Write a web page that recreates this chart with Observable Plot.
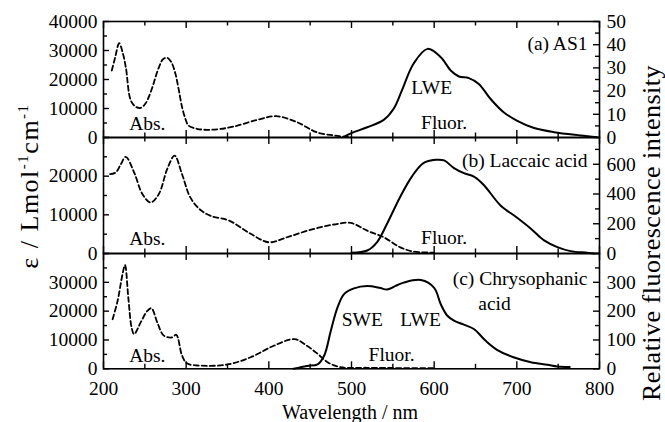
<!DOCTYPE html>
<html><head><meta charset="utf-8">
<script src="https://cdn.jsdelivr.net/npm/d3@7"></script>
<script src="https://cdn.jsdelivr.net/npm/@observablehq/plot@0.6"></script>
<style>
body{margin:0;background:#fff;}
#chart{position:relative;width:665px;height:422px;background:#fff;}
#chart svg{position:absolute;left:0;top:0;overflow:visible;}
#chart svg, #chart svg text{font-family:"Liberation Serif","DejaVu Serif","Times New Roman",serif !important;}
</style></head><body><div id="chart"></div>
<script>
// ---------- data ----------
const wlMajorTicks = [200,300,400,500,600,700,800];
const wlMinorTicks = [250,350,450,550,650,750];

// (a) AS1
const aAbsWl = [210,214,219,223,227,233,239,245,251,257,267,272,277,282,287,291,295,299,303,313,325,340,358,386,409,434,458,479,490,500];
const aAbs   = [23100,27500,32500,29500,24200,12800,10600,10200,11800,15600,24200,27000,27500,26000,22000,16500,10500,6500,4100,3000,2650,2900,3800,6100,7350,5300,1800,700,300,100];
const aFlWl  = [491,500,519,539,551,561,575,592,608,620,630,642,654,668,684,700,720,745,777,797];
const aFl    = [0.4,1.9,4.4,7.6,12.4,20.3,31.8,38.2,34.6,28.9,26.3,25.6,23.1,16.7,10.9,7.3,4.2,2.3,0.9,0.15];

// (b) Laccaic acid
const bAbsWl = [208,215,221,227,237,247,257,267,277,286,295,305,317,330,352,378,400,422,450,479,499,519,539,559,575,600];
const bAbs   = [20500,21000,23100,25000,21000,15400,13200,15400,21800,25300,20500,14500,11300,9700,8500,5100,2900,4200,6100,7500,7900,5900,4200,1600,500,250];
const bFlWl  = [500,519,531,543,559,573,587,602,612,624,636,648,660,680,700,717,733,749,765,785,793];
const bFl    = [5,20,77,200,382,517,608,630,626,574,540,517,461,325,242,167,88,43,16,5,0];

// (c) Chrysophanic acid
const cAbsWl = [211,217,223,226,230,234,237,245,253,258,265,273,283,288,295,301,317,350,378,406,431,446,459,471,487,519,600];
const cAbs   = [17200,23500,32800,36000,24700,14300,12000,16100,20100,21000,16100,11500,10900,11800,4600,1900,1100,1500,4000,8000,10300,8000,5200,2300,550,350,200];
const cFlWl  = [430,446,459,467,475,483,491,503,519,535,543,555,563,584,600,608,616,624,636,648,662,676,696,717,737,749,764];
const cFl    = [0,10,15,46,132,212,259,279,287,280,275,290,299,308,281,224,184,167,153,138,98,66,40,23,14,8,6];

// ---------- layout ----------
const W = 665, H = 422, ML = 103, MR = 66;
const FONT = '"Liberation Serif","DejaVu Serif","Times New Roman",serif';
const FS = 19.5;
const zip = (xs, ys) => xs.map((x, i) => ({x, y: ys[i]}));
const range = (a, b, s) => d3.range(a, b + s / 2, s);

const panels = [
  {top: 21, bottom: 137, abs: zip(aAbsWl, aAbs), fl: zip(aFlWl, aFl),
   yAbs: [0, 40000], absMajor: range(0, 40000, 10000), absMinor: range(5000, 35000, 10000), absLabels: range(0, 40000, 10000),
   yFl: [0, 50], flMajor: range(0, 50, 10), flMinor: range(5, 45, 10), flLabels: range(0, 50, 10),
   texts: [
     {t: "Abs.", x: 253, y: 4830, a: "middle"},
     {t: "LWE", x: 597, y: 17000, a: "middle"},
     {t: "Fluor.", x: 612, y: 5170, a: "middle"},
     {t: "(a) AS1", x: 785.5, y: 32400, a: "end"}
   ]},
  {top: 137, bottom: 253, abs: zip(bAbsWl, bAbs), fl: zip(bFlWl, bFl),
   yAbs: [0, 30000], absMajor: range(0, 30000, 10000), absMinor: range(5000, 25000, 10000), absLabels: [0, 10000, 20000],
   yFl: [0, 780], flMajor: [0, 200, 400, 600], flMinor: [100, 300, 500, 700], flLabels: [0, 200, 400, 600],
   texts: [
     {t: "Abs.", x: 253, y: 3870, a: "middle"},
     {t: "Fluor.", x: 612, y: 4200, a: "middle"},
     {t: "(b) Laccaic acid", x: 785.5, y: 23970, a: "end"}
   ]},
  {top: 253, bottom: 368.3, abs: zip(cAbsWl, cAbs), fl: zip(cFlWl, cFl),
   yAbs: [0, 40000], absMajor: range(0, 40000, 10000), absMinor: range(5000, 35000, 10000), absLabels: range(0, 30000, 10000),
   yFl: [0, 400], flMajor: range(0, 400, 100), flMinor: range(50, 350, 100), flLabels: range(0, 300, 100),
   texts: [
     {t: "Abs.", x: 253, y: 4590, a: "middle"},
     {t: "SWE", x: 513, y: 16900, a: "middle"},
     {t: "LWE", x: 583.5, y: 17000, a: "middle"},
     {t: "Fluor.", x: 548.5, y: 4930, a: "middle"},
     {t: "(c) Chrysophanic", x: 785.5, y: 31140, a: "end"},
     {t: "acid", x: 673, y: 22620, a: "middle"}
   ]}
];

const chart = document.getElementById("chart");
const panelW = W - ML - MR;
const style = {background: "transparent", fontFamily: FONT, fontSize: FS + "px", color: "black", overflow: "visible"};

panels.forEach((p, k) => {
  const ph = p.bottom - p.top;
  const last = k === panels.length - 1;
  const base = {width: W, height: H, marginLeft: ML, marginRight: MR, marginTop: p.top, marginBottom: H - p.bottom, style};
  const xScale = {domain: [200, 800], axis: null};

  const absPlot = Plot.plot({
    ...base,
    x: xScale,
    y: {domain: p.yAbs, axis: null},
    marks: [
      Plot.frame({stroke: "black", strokeWidth: 1.6}),
      // x ticks (inward) bottom and top
      Plot.ruleX(wlMajorTicks, {x: d => d, insetTop: ph - 7, stroke: "black", strokeWidth: 1.4}),
      Plot.ruleX(wlMinorTicks, {x: d => d, insetTop: ph - 4.5, stroke: "black", strokeWidth: 1.4}),
      Plot.ruleX(wlMajorTicks, {x: d => d, insetBottom: ph - 7, stroke: "black", strokeWidth: 1.4}),
      Plot.ruleX(wlMinorTicks, {x: d => d, insetBottom: ph - 4.5, stroke: "black", strokeWidth: 1.4}),
      // left y ticks (inward)
      Plot.ruleY(p.absMajor, {y: d => d, insetRight: panelW - 6, stroke: "black", strokeWidth: 1.4}),
      Plot.ruleY(p.absMinor, {y: d => d, insetRight: panelW - 4, stroke: "black", strokeWidth: 1.4}),
      Plot.axisY(p.absLabels, {anchor: "left", tickSize: 0, tickPadding: 6, fontSize: FS, tickFormat: d => String(d), label: null}),
      ...(last ? [Plot.axisX(wlMajorTicks, {anchor: "bottom", tickSize: 0, tickPadding: 12, fontSize: FS, tickFormat: d => String(d), label: null})] : []),
      Plot.line(p.abs, {x: "x", y: "y", curve: "catmull-rom", stroke: "black", strokeWidth: 1.8, strokeDasharray: "5,3"}),
      ...p.texts.map(t => Plot.text([t], {x: "x", y: "y", text: "t", textAnchor: t.a, lineAnchor: "middle", fontSize: FS, fill: "black"}))
    ]
  });
  chart.appendChild(absPlot);

  const flPlot = Plot.plot({
    ...base,
    x: xScale,
    y: {domain: p.yFl, axis: null},
    marks: [
      Plot.ruleY(p.flMajor, {y: d => d, insetLeft: panelW - 6, stroke: "black", strokeWidth: 1.4}),
      Plot.ruleY(p.flMinor, {y: d => d, insetLeft: panelW - 4, stroke: "black", strokeWidth: 1.4}),
      Plot.axisY(p.flLabels, {anchor: "right", tickSize: 0, tickPadding: 7, fontSize: FS, tickFormat: d => String(d), label: null}),
      Plot.line(p.fl, {x: "x", y: "y", curve: "catmull-rom", stroke: "black", strokeWidth: 2})
    ]
  });
  chart.appendChild(flPlot);
});

// axis titles
const titles = d3.select(chart).append("svg")
  .attr("width", W).attr("height", H)
  .style("font-family", FONT);
titles.append("text")
  .attr("x", 350).attr("y", 419)
  .attr("text-anchor", "middle").attr("font-size", 20)
  .text("Wavelength / nm");
const lt = titles.append("text")
  .attr("transform", "translate(38,186) rotate(-90)")
  .attr("text-anchor", "middle").attr("font-size", 26)
  .attr("letter-spacing", 1.5);
lt.append("tspan").text("ε / Lmol");
lt.append("tspan").attr("font-size", 15).attr("dy", -10).text("-1");
lt.append("tspan").attr("dy", 10).text("cm");
lt.append("tspan").attr("font-size", 15).attr("dy", -10).text("-1");
titles.append("text")
  .attr("transform", "translate(660,233) rotate(-90)")
  .attr("text-anchor", "middle").attr("font-size", 26)
  .attr("letter-spacing", 0.5)
  .text("Relative fluorescence intensity");
</script></body></html>
